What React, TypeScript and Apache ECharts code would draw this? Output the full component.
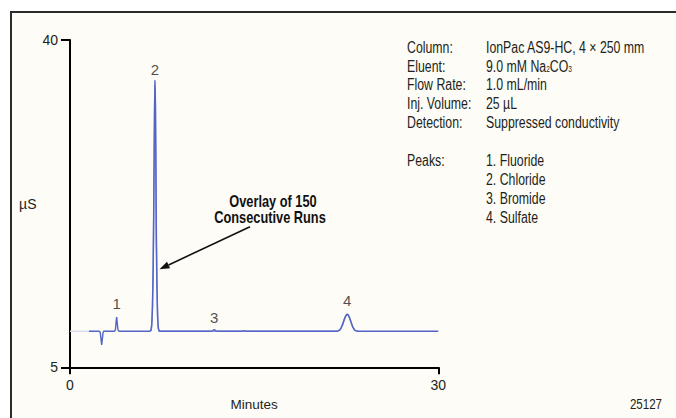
import React, { useEffect, useRef } from "react";
import * as echarts from "echarts";

// ---- Data ----
const xTicks = [0, 30];
const yTicks = [5, 40];

// faint baseline before the trace starts
const traceFaint: [number, number][] = [
  [0, 8.85], [1.55, 8.85],
];

// main overlay trace (minutes, µS)
const traceMain: [number, number][] = [
  [1.55, 8.85], [2.38, 8.85], [2.46, 8.75], [2.52, 8.1], [2.58, 7.4], [2.64, 8.1],
  [2.7, 8.75], [2.8, 8.9], [2.92, 8.85], [3.62, 8.85], [3.7, 9.0], [3.75, 9.8],
  [3.8, 10.38], [3.85, 9.7], [3.91, 9.0], [4.0, 8.85], [6.5, 8.85], [6.6, 8.95],
  [6.66, 9.6], [6.72, 11.5], [6.78, 16.0], [6.83, 24.0], [6.88, 32.0], [6.92, 35.7],
  [6.96, 33.0], [7.0, 26.0], [7.04, 19.0], [7.08, 14.0], [7.13, 10.5], [7.2, 9.1],
  [7.3, 8.85], [11.45, 8.85], [11.6, 8.9], [11.75, 9.02], [11.9, 8.9], [12.05, 8.85],
  [14.0, 8.85], [14.17, 8.93], [14.35, 8.85], [21.7, 8.85], [21.95, 8.95], [22.1, 9.25],
  [22.25, 9.8], [22.4, 10.35], [22.5, 10.62], [22.58, 10.7], [22.66, 10.62],
  [22.76, 10.35], [22.9, 9.8], [23.05, 9.25], [23.2, 8.95], [23.45, 8.85], [30, 8.85],
];

// a second, lighter run of the overlay
const traceOverlay: [number, number][] = [
  [6.55, 8.85], [6.64, 9.2], [6.7, 10.5], [6.76, 14.3], [6.82, 21.0], [6.87, 29.0],
  [6.91, 35.2], [6.95, 34.0], [6.99, 27.0], [7.02, 19.0], [7.05, 16.1], [7.1, 12.5],
  [7.16, 9.6], [7.25, 8.85], [21.75, 8.85], [22.0, 9.0], [22.2, 9.5], [22.35, 10.1],
  [22.5, 10.55], [22.6, 10.62], [22.7, 10.5], [22.85, 10.0], [23.0, 9.4], [23.2, 8.98],
  [23.45, 8.85],
];

const peakTimes = [3.8, 6.92, 11.75, 22.58];
const peakHeights = [10.38, 35.7, 9.02, 10.7];
const peakNames = ["1", "2", "3", "4"];
const peakLabelGaps = [6, 3, 5, 5.5];

const infoKeys = ["Column:", "Eluent:", "Flow Rate:", "Inj. Volume:", "Detection:", "", "Peaks:"];
const infoValues = [
  "IonPac AS9-HC, 4 × 250 mm",
  "9.0 mM Na{sub|2}CO{sub|3}",
  "1.0 mL/min",
  "25 µL",
  "Suppressed conductivity",
  "",
  "1. Fluoride",
  "2. Chloride",
  "3. Bromide",
  "4. Sulfate",
];

const FONT = "'Liberation Sans', Arial, sans-serif";
const TXT = "#231f20";
const BLUE = "#5264c6";
const NARROW = 0.77;

export default function App() {
  const ref = useRef<HTMLDivElement>(null);

  useEffect(() => {
    if (!ref.current) return;
    const chart = echarts.init(ref.current, undefined, { renderer: "svg" });

    const rowY0 = 47;
    const rowStep = 18.9;
    const infoGraphics: any[] = [];
    infoKeys.forEach((k, i) => {
      if (!k) return;
      infoGraphics.push({
        type: "text",
        x: 407,
        y: rowY0 + i * rowStep,
        scaleX: NARROW,
        style: { text: k, font: `16px ${FONT}`, fill: TXT, verticalAlign: "middle", align: "left" },
      });
    });
    infoValues.forEach((v, i) => {
      if (!v) return;
      infoGraphics.push({
        type: "text",
        x: 486,
        y: rowY0 + i * rowStep,
        scaleX: NARROW,
        style: {
          text: v,
          fontFamily: FONT,
          fontSize: 16,
          fill: TXT,
          verticalAlign: "middle",
          align: "left",
          rich: {
            sub: { fontFamily: FONT, fontSize: 8.5, fill: TXT, padding: [7, 0, 0, 0] },
          },
        },
      });
    });

    // arrow geometry
    const tail = [250, 226.7];
    const head = [159.5, 269.2];
    const dx = head[0] - tail[0];
    const dy = head[1] - tail[1];
    const len = Math.hypot(dx, dy);
    const ux = dx / len, uy = dy / len;
    const aL = 10, aW = 3.6;
    const bx = head[0] - aL * ux, by = head[1] - aL * uy;
    const px = -uy, py = ux;

    chart.setOption({
      animation: false,
      grid: { left: 70, right: 237.7, top: 40, bottom: 50.7 },
      xAxis: {
        type: "value",
        min: 0,
        max: 30,
        interval: 30,
        name: "Minutes",
        nameLocation: "middle",
        nameGap: 11,
        nameTextStyle: { fontFamily: FONT, fontSize: 13.5, color: TXT, verticalAlign: "top" },
        axisLine: { show: true, lineStyle: { color: "#000", width: 2 } },
        axisTick: { show: true, length: 7, lineStyle: { color: "#000", width: 2 }, customValues: xTicks },
        axisLabel: { fontFamily: FONT, fontSize: 14, color: TXT, margin: 11, customValues: xTicks },
        splitLine: { show: false },
      },
      yAxis: {
        type: "value",
        min: 5,
        max: 40,
        name: "µS",
        nameLocation: "middle",
        nameRotate: 0,
        nameGap: 10,
        nameTextStyle: { fontFamily: FONT, fontSize: 14, color: TXT, align: "right" },
        axisLine: { show: true, lineStyle: { color: "#000", width: 2 } },
        axisTick: { show: true, length: 9, lineStyle: { color: "#000", width: 2 }, customValues: yTicks },
        axisLabel: { fontFamily: FONT, fontSize: 14, color: TXT, margin: 12, customValues: yTicks },
        splitLine: { show: false },
      },
      series: [
        {
          type: "line",
          name: "baseline",
          data: traceFaint,
          showSymbol: false,
          lineStyle: { color: "#d9dbea", width: 1.5 },
          silent: true,
        },
        {
          type: "line",
          name: "overlay",
          data: traceOverlay,
          showSymbol: false,
          lineStyle: { color: "#8e99dd", width: 1.5 },
          silent: true,
        },
        {
          type: "line",
          name: "run",
          data: traceMain,
          showSymbol: false,
          lineStyle: { color: BLUE, width: 1.4 },
          silent: true,
        },
        {
          type: "scatter",
          name: "peaks",
          symbolSize: 0,
          silent: true,
          data: peakTimes.map((t, i) => ({
            value: [t, peakHeights[i]],
            name: peakNames[i],
            label: { distance: peakLabelGaps[i] },
          })),
          label: {
            show: true,
            position: "top",
            formatter: (p: any) => p.name,
            fontFamily: FONT,
            fontSize: 15,
            color: TXT,
          },
        },
      ],
      graphic: [
        {
          type: "rect",
          z: -10,
          silent: true,
          shape: { x: 11, y: 12, width: 720, height: 460 },
          style: { fill: "#fdfcf6", stroke: "#2b2b2b", lineWidth: 2 },
        },
        {
          type: "text",
          x: 273,
          y: 201.5,
          scaleX: 0.8,
          style: { text: "Overlay of 150", font: `bold 16px ${FONT}`, fill: "#111", align: "center", verticalAlign: "middle" },
        },
        {
          type: "text",
          x: 270,
          y: 217,
          scaleX: 0.8,
          style: { text: "Consecutive Runs", font: `bold 16px ${FONT}`, fill: "#111", align: "center", verticalAlign: "middle" },
        },
        {
          type: "line",
          shape: { x1: tail[0], y1: tail[1], x2: bx, y2: by },
          style: { stroke: "#111", lineWidth: 1.6 },
        },
        {
          type: "polygon",
          shape: {
            points: [
              [head[0], head[1]],
              [bx + aW * px, by + aW * py],
              [bx - aW * px, by - aW * py],
            ],
          },
          style: { fill: "#111" },
        },
        {
          type: "text",
          x: 662,
          y: 403.5,
          scaleX: NARROW,
          style: { text: "25127", font: `15px ${FONT}`, fill: TXT, align: "right", verticalAlign: "middle" },
        },
        ...infoGraphics,
      ],
    });

    return () => chart.dispose();
  }, []);

  return (
    <div
      ref={ref}
      style={{ position: "fixed", left: 0, top: 0, width: 676, height: 418, background: "#ffffff" }}
    />
  );
}
